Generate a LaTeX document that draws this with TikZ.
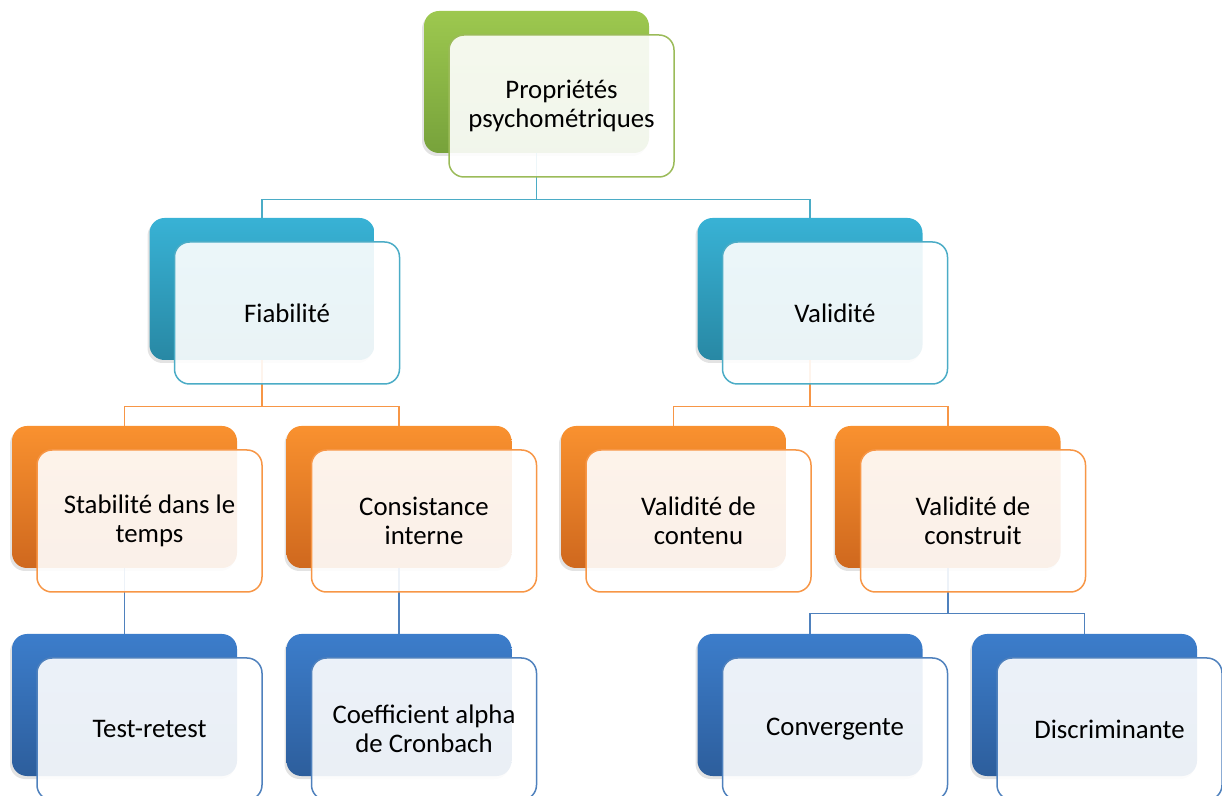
\documentclass[tikz,border=0pt]{standalone}
\usepackage{fontspec}
\setmainfont{Carlito}
\usetikzlibrary{positioning, shadows}

\definecolor{vertHaut}{HTML}{9DC84F}
\definecolor{vertBas}{HTML}{77A23B}
\definecolor{vertBord}{HTML}{9BBB59}
\definecolor{cyanHaut}{HTML}{38B2D5}
\definecolor{cyanBas}{HTML}{2888A4}
\definecolor{cyanBord}{HTML}{4BACC6}
\definecolor{orangeHaut}{HTML}{F9912F}
\definecolor{orangeBas}{HTML}{CF681E}
\definecolor{orangeBord}{HTML}{F79646}
\definecolor{bleuHaut}{HTML}{3C7DCB}
\definecolor{bleuBas}{HTML}{2D5E9C}
\definecolor{bleuBord}{HTML}{4F81BD}

\tikzset{
	fond/.style = {rectangle, rounded corners = 7.5pt, minimum width = 112.5pt,
		minimum height = 71pt, inner sep = 0pt,
		drop shadow = {shadow xshift = -1pt, shadow yshift = -1.5pt, opacity = 0.22}},
	fondvert/.style = {fond, top color = vertHaut, bottom color = vertBas},
	fondcyan/.style = {fond, top color = cyanHaut, bottom color = cyanBas},
	fondorange/.style = {fond, top color = orangeHaut, bottom color = orangeBas},
	fondbleu/.style = {fond, top color = bleuHaut, bottom color = bleuBas},
	avant/.style = {rectangle, rounded corners = 7.5pt, minimum width = 112.5pt,
		minimum height = 71pt, inner sep = 0pt, fill = white, fill opacity = 0.9,
		text opacity = 1, line width = 0.75pt, align = center,
		font = \fontsize{13.4}{14.6}\selectfont},
	avantvert/.style = {avant, draw = vertBord},
	avantcyan/.style = {avant, draw = cyanBord},
	avantorange/.style = {avant, draw = orangeBord},
	avantbleu/.style = {avant, draw = bleuBord},
	lien/.style = {line width = 0.8pt}
}

\begin{document}
\begin{tikzpicture}[x = 0.5pt, y = -0.5pt]
			\useasboundingbox (0, 0) rectangle (1222, 796);
			% fonds
			\node[fondvert] (propB) at (536.5, 82) {};
			\node[fondcyan] (fiabB) at (262, 289) {};
			\node[fondcyan] (validB) at (810, 289) {};
			\node[fondorange] (stabB) at (124.5, 497) {};
			\node[fondorange] (consB) at (399, 497) {};
			\node[fondorange] (contB) at (673.5, 497) {};
			\node[fondorange] (construB) at (948, 497) {};
			\node[fondbleu] (testB) at (124.5, 705) {};
			\node[fondbleu] (coefB) at (399, 705) {};
			\node[fondbleu] (convB) at (810, 705) {};
			\node[fondbleu] (discB) at (1084.5, 705) {};
			% liens
			\draw[lien, cyanBord] (propB.south) -- ++(0, 46) -| (fiabB.north);
			\draw[lien, cyanBord] (propB.south) -- ++(0, 46) -| (validB.north);
			\draw[lien, orangeBord] (fiabB.south) -- ++(0, 46) -| (stabB.north);
			\draw[lien, orangeBord] (fiabB.south) -- ++(0, 46) -| (consB.north);
			\draw[lien, orangeBord] (validB.south) -- ++(0, 46) -| (contB.north);
			\draw[lien, orangeBord] (validB.south) -- ++(0, 46) -| (construB.north);
			\draw[lien, bleuBord] (stabB.south) -- (testB.north);
			\draw[lien, bleuBord] (consB.south) -- (coefB.north);
			\draw[lien, bleuBord] (construB.south) -- ++(0, 45) -| (convB.north);
			\draw[lien, bleuBord] (construB.south) -- ++(0, 45) -| (discB.north);
			% cadres avec texte
			\node[avantvert] (prop) at ([shift = {(25, 24)}]propB) {Propriétés\\psychométriques};
			\node[avantcyan] (fiab) at ([shift = {(25, 24)}]fiabB) {Fiabilité};
			\node[avantcyan] (valid) at ([shift = {(25, 24)}]validB) {Validité};
			\node[avantorange] (stab) at ([shift = {(25, 24)}]stabB) {Stabilité dans le\\temps};
			\node[avantorange] (cons) at ([shift = {(25, 24)}]consB) {Consistance\\interne};
			\node[avantorange] (cont) at ([shift = {(25, 24)}]contB) {Validité de\\contenu};
			\node[avantorange] (constru) at ([shift = {(25, 24)}]construB) {Validité de\\construit};
			\node[avantbleu] (test) at ([shift = {(25, 24)}]testB) {Test-retest};
			\node[avantbleu] (coef) at ([shift = {(25, 24)}]coefB) {Coefficient alpha\\de Cronbach};
			\node[avantbleu] (conv) at ([shift = {(25, 24)}]convB) {Convergente};
			\node[avantbleu] (disc) at ([shift = {(25, 24)}]discB) {Discriminante};
		\end{tikzpicture}
\end{document}
